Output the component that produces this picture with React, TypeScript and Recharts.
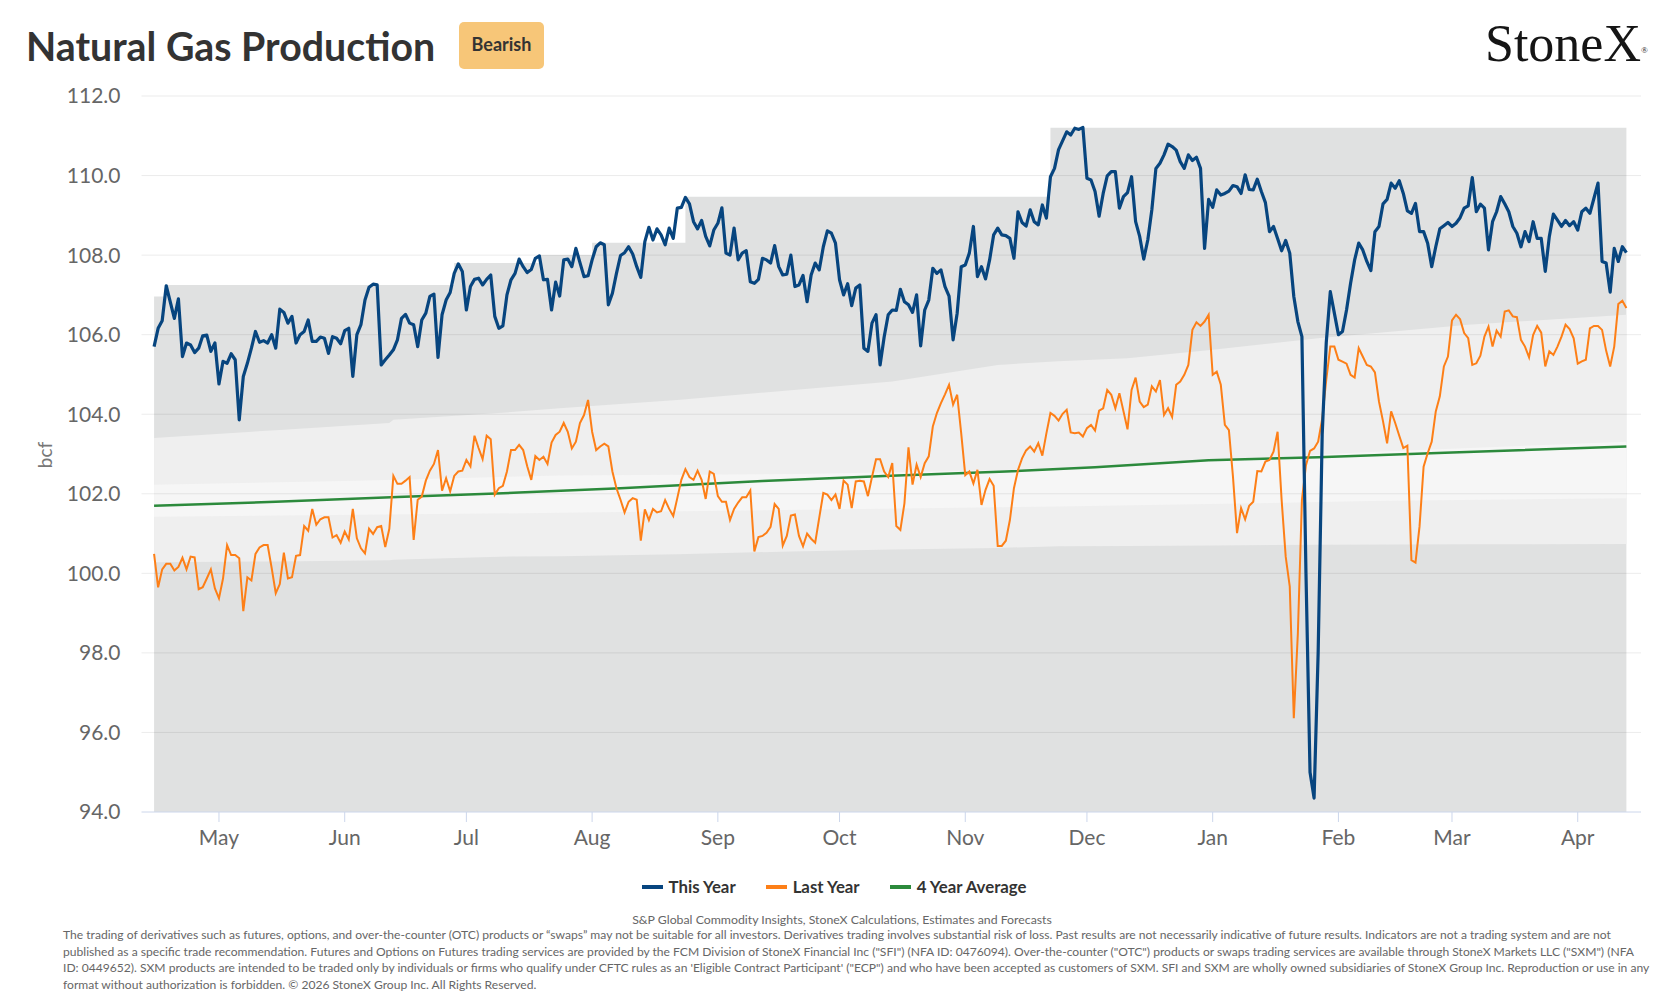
import React from "react";
import { ComposedChart, Area, Line, XAxis, YAxis, ReferenceLine } from "recharts";

// x values are days counted from Apr 15 of the previous year
const monthTickDays = [16, 47, 77, 108, 139, 169, 200, 230, 261, 292, 320, 351];
const monthLabels = ["May", "Jun", "Jul", "Aug", "Sep", "Oct", "Nov", "Dec", "Jan", "Feb", "Mar", "Apr"];
const yTicks = [94, 96, 98, 100, 102, 104, 106, 108, 110, 112];

// [day, bcf]
const thisYear: [number, number][] = [
  [0, 105.7], [1, 106.16], [2, 106.35], [3, 107.23], [5, 106.41], [6, 106.9], [7, 105.45], [8, 105.79],
  [9, 105.74], [10, 105.55], [11, 105.66], [12, 105.97], [13, 105.99], [14, 105.58], [15, 105.79],
  [16, 104.76], [17, 105.33], [18, 105.28], [19, 105.52], [20, 105.37], [21, 103.86], [22, 104.95],
  [23, 105.28], [24, 105.66], [25, 106.08], [26, 105.81], [27, 105.85], [28, 105.79], [29, 106.0],
  [30, 105.66], [31, 106.64], [32, 106.56], [33, 106.29], [34, 106.46], [35, 105.79], [36, 106.0],
  [37, 106.08], [38, 106.37], [39, 105.83], [40, 105.83], [41, 105.94], [42, 105.91], [43, 105.53],
  [44, 105.95], [45, 105.91], [46, 105.77], [47, 106.1], [48, 106.16], [49, 104.95], [50, 106.0],
  [51, 106.25], [52, 106.87], [53, 107.19], [54, 107.27], [55, 107.25], [56, 105.24], [57, 105.37],
  [58, 105.49], [59, 105.62], [60, 105.87], [61, 106.41], [62, 106.51], [63, 106.29], [64, 106.25],
  [65, 105.7], [66, 106.37], [67, 106.54], [68, 106.96], [69, 107.02], [70, 105.43], [71, 106.5],
  [72, 106.87], [73, 107.06], [74, 107.54], [75, 107.78], [76, 107.59], [77, 106.62], [78, 107.21],
  [79, 107.39], [80, 107.42], [81, 107.25], [82, 107.39], [83, 107.5], [84, 106.46], [85, 106.16],
  [86, 106.22], [87, 107.0], [88, 107.38], [89, 107.54], [90, 107.9], [91, 107.71], [92, 107.56],
  [93, 107.64], [94, 107.92], [95, 107.98], [96, 107.38], [97, 107.39], [98, 106.62], [99, 107.32],
  [100, 106.97], [101, 107.88], [102, 107.9], [103, 107.71], [104, 108.17], [105, 107.81], [106, 107.46],
  [107, 107.48], [108, 107.88], [109, 108.21], [110, 108.31], [111, 108.26], [112, 106.75], [113, 107.04],
  [114, 107.54], [115, 107.99], [116, 108.06], [117, 108.21], [118, 108.03], [119, 107.71], [120, 107.44],
  [121, 108.34], [122, 108.7], [123, 108.38], [124, 108.66], [125, 108.51], [126, 108.26], [127, 108.68],
  [128, 108.42], [129, 109.18], [130, 109.2], [131, 109.45], [132, 109.29], [133, 108.84], [134, 108.66],
  [135, 108.87], [136, 108.47], [137, 108.23], [138, 108.63], [139, 108.8], [140, 109.19], [141, 108.05],
  [142, 108.0], [143, 108.68], [144, 107.88], [145, 108.05], [146, 108.11], [147, 107.33], [148, 107.29],
  [149, 107.39], [150, 107.92], [151, 107.88], [152, 107.8], [153, 108.24], [154, 107.71], [155, 107.5],
  [156, 107.52], [157, 108.0], [158, 107.21], [159, 107.25], [160, 107.49], [161, 106.83], [162, 107.5],
  [163, 107.8], [164, 107.63], [165, 108.21], [166, 108.61], [167, 108.55], [168, 108.3], [169, 107.38],
  [170, 107.0], [171, 107.28], [172, 106.73], [173, 107.17], [174, 107.25], [175, 105.66], [176, 105.58],
  [177, 106.29], [178, 106.5], [179, 105.24], [180, 105.94], [181, 106.5], [182, 106.62], [183, 106.61],
  [184, 107.14], [185, 106.83], [186, 106.75], [187, 106.56], [188, 107.0], [189, 105.72], [190, 106.62],
  [191, 106.87], [192, 107.67], [193, 107.54], [194, 107.63], [195, 107.21], [196, 106.97], [197, 105.87],
  [198, 106.54], [199, 107.71], [200, 107.75], [201, 108.05], [202, 108.72], [203, 107.46], [204, 107.71],
  [205, 107.4], [206, 107.88], [207, 108.51], [208, 108.68], [209, 108.51], [210, 108.49], [211, 108.42],
  [212, 107.92], [213, 109.09], [214, 108.82], [215, 108.73], [216, 109.14], [217, 108.84], [218, 108.76],
  [219, 109.26], [220, 108.93], [221, 109.97], [222, 110.18], [223, 110.65], [225, 111.1], [226, 111.02],
  [227, 111.19], [228, 111.16], [229, 111.21], [230, 109.93], [231, 109.89], [232, 109.6], [233, 108.98],
  [234, 109.55], [235, 109.99], [236, 110.1], [237, 110.1], [238, 109.18], [239, 109.47], [240, 109.57],
  [241, 109.97], [242, 108.84], [243, 108.47], [244, 107.9], [245, 108.38], [246, 109.14], [247, 110.18],
  [248, 110.31], [249, 110.52], [250, 110.79], [251, 110.73], [252, 110.64], [253, 110.35], [254, 110.18],
  [255, 110.52], [256, 110.38], [257, 110.46], [258, 110.18], [259, 108.17], [260, 109.4], [261, 109.2],
  [262, 109.64], [263, 109.51], [264, 109.55], [265, 109.61], [266, 109.75], [267, 109.72], [268, 109.55],
  [269, 110.02], [270, 109.65], [271, 109.64], [272, 109.91], [273, 109.6], [274, 109.32], [275, 108.59],
  [276, 108.72], [277, 108.42], [278, 108.11], [279, 108.37], [280, 108.05], [281, 106.96], [282, 106.33],
  [283, 105.95], [284, 100.0], [285, 95.0], [286, 94.35], [287, 98.0], [288, 103.5], [289, 105.8],
  [290, 107.08], [292, 106.0], [293, 106.08], [294, 106.62], [295, 107.29], [296, 107.88], [297, 108.3],
  [298, 108.13], [299, 107.84], [300, 107.61], [301, 108.59], [302, 108.72], [303, 109.29], [304, 109.4],
  [305, 109.81], [306, 109.68], [307, 109.87], [308, 109.55], [309, 109.11], [310, 109.05], [311, 109.3],
  [312, 108.59], [313, 108.59], [314, 108.3], [315, 107.71], [316, 108.21], [317, 108.66], [318, 108.74],
  [319, 108.82], [320, 108.72], [321, 108.8], [322, 108.94], [323, 109.18], [324, 109.24], [325, 109.95],
  [326, 109.09], [327, 109.28], [328, 109.18], [329, 108.13], [330, 108.84], [331, 109.09], [332, 109.47],
  [333, 109.29], [334, 109.09], [335, 108.72], [336, 108.55], [337, 108.21], [338, 108.59], [339, 108.34],
  [340, 108.84], [341, 108.42], [342, 108.42], [343, 107.59], [344, 108.47], [345, 109.03], [346, 108.88],
  [347, 108.72], [348, 108.87], [349, 108.74], [350, 108.84], [351, 108.63], [352, 109.09], [353, 109.18],
  [354, 109.05], [355, 109.43], [356, 109.81], [357, 107.84], [358, 107.8], [359, 107.07], [360, 108.17],
  [361, 107.84], [362, 108.21], [363, 108.06],
];

const lastYear: [number, number][] = [
  [0, 100.49], [1, 99.65], [2, 100.1], [3, 100.24], [4, 100.24], [5, 100.07], [6, 100.16], [7, 100.39],
  [8, 100.1], [9, 100.42], [10, 100.4], [11, 99.6], [12, 99.65], [13, 99.87], [14, 100.1], [15, 99.62],
  [16, 99.37], [17, 99.87], [18, 100.71], [19, 100.46], [20, 100.46], [21, 100.38], [22, 99.05],
  [23, 99.9], [24, 99.82], [25, 100.49], [26, 100.65], [27, 100.71], [28, 100.71], [29, 100.13],
  [30, 99.5], [31, 99.73], [32, 100.52], [33, 99.87], [34, 99.9], [35, 100.44], [36, 100.46],
  [37, 101.19], [38, 101.07], [39, 101.62], [40, 101.22], [41, 101.36], [42, 101.41], [43, 101.41],
  [44, 100.9], [45, 100.96], [46, 100.77], [47, 101.05], [48, 100.85], [49, 101.62], [50, 100.88],
  [51, 100.63], [52, 100.5], [53, 101.12], [54, 100.99], [55, 101.16], [56, 101.19], [57, 100.66],
  [58, 101.12], [59, 102.45], [60, 102.25], [61, 102.25], [62, 102.33], [63, 102.42], [64, 100.84],
  [65, 101.85], [66, 101.93], [67, 102.33], [68, 102.58], [69, 102.75], [70, 103.1], [71, 102.08],
  [72, 102.39], [73, 102.06], [74, 102.45], [75, 102.56], [76, 102.58], [77, 102.85], [78, 102.69],
  [79, 103.46], [80, 103.15], [81, 102.87], [82, 103.46], [83, 103.37], [84, 101.98], [85, 102.14],
  [86, 102.2], [87, 102.56], [88, 103.1], [89, 103.1], [90, 103.23], [91, 103.1], [92, 102.69],
  [93, 102.35], [94, 102.95], [95, 102.85], [96, 102.93], [97, 102.75], [98, 103.29], [99, 103.48],
  [100, 103.56], [101, 103.78], [102, 103.56], [103, 103.14], [104, 103.31], [105, 103.78], [106, 103.98],
  [107, 104.36], [108, 103.56], [109, 103.1], [110, 103.19], [111, 103.26], [112, 103.19], [113, 102.56],
  [114, 102.14], [115, 101.85], [116, 101.53], [117, 101.8], [118, 101.89], [119, 101.85], [120, 100.82],
  [121, 101.61], [122, 101.34], [123, 101.62], [124, 101.53], [125, 101.56], [126, 101.84], [127, 101.62],
  [128, 101.44], [129, 101.89], [130, 102.35], [131, 102.62], [132, 102.42], [133, 102.35], [134, 102.58],
  [135, 102.35], [136, 101.87], [137, 102.56], [138, 102.5], [139, 101.94], [140, 101.8], [141, 101.8],
  [142, 101.34], [143, 101.62], [144, 101.78], [145, 101.91], [146, 101.91], [147, 102.08], [148, 100.55],
  [149, 100.91], [150, 100.94], [151, 101.02], [152, 101.17], [153, 101.74], [154, 101.62], [155, 100.7],
  [156, 100.94], [157, 101.45], [158, 101.48], [159, 100.94], [160, 100.68], [161, 101.0], [162, 100.87],
  [163, 100.77], [164, 101.4], [165, 102.02], [166, 101.98], [167, 101.84], [168, 101.98], [169, 101.62],
  [170, 102.33], [171, 102.23], [172, 101.64], [173, 102.31], [174, 102.33], [175, 102.31], [176, 101.94],
  [177, 102.42], [178, 102.87], [179, 102.87], [180, 102.56], [181, 102.42], [182, 102.77], [183, 101.19],
  [184, 101.09], [185, 101.76], [186, 103.17], [187, 102.23], [188, 102.73], [189, 102.42], [190, 102.77],
  [191, 102.94], [192, 103.69], [193, 104.03], [194, 104.28], [195, 104.5], [196, 104.74], [197, 104.24],
  [198, 104.49], [199, 103.52], [200, 102.47], [201, 102.56], [202, 102.26], [203, 102.6], [204, 101.72],
  [205, 102.1], [206, 102.37], [207, 102.2], [208, 100.69], [209, 100.69], [210, 100.82], [211, 101.34],
  [212, 102.14], [213, 102.6], [214, 102.89], [215, 103.09], [216, 103.19], [217, 103.06], [218, 103.27],
  [219, 102.96], [220, 103.52], [221, 104.03], [222, 103.96], [223, 103.84], [224, 104.01], [225, 104.11],
  [226, 103.54], [227, 103.52], [228, 103.54], [229, 103.44], [230, 103.65], [231, 103.73], [232, 103.59],
  [233, 104.09], [234, 104.15], [235, 104.61], [236, 104.49], [237, 104.15], [238, 104.53], [240, 103.62],
  [241, 104.61], [242, 104.92], [243, 104.32], [244, 104.18], [245, 104.24], [246, 104.7], [247, 104.57],
  [248, 104.86], [249, 103.98], [250, 104.15], [251, 103.93], [252, 104.74], [253, 104.82], [254, 104.99],
  [255, 105.24], [256, 106.12], [257, 106.31], [258, 106.22], [259, 106.33], [260, 106.5], [261, 104.99],
  [262, 105.07], [263, 104.74], [264, 103.73], [265, 103.6], [266, 102.43], [267, 101.01], [268, 101.64],
  [269, 101.36], [270, 101.7], [271, 101.8], [272, 102.57], [273, 102.56], [274, 102.81], [275, 102.85],
  [276, 103.06], [277, 103.56], [278, 101.84], [279, 100.42], [280, 99.67], [281, 96.36], [282, 98.49],
  [283, 101.84], [284, 102.72], [285, 103.08], [286, 103.14], [287, 103.31], [288, 103.89], [289, 104.86],
  [290, 105.7], [291, 105.7], [292, 105.37], [293, 105.32], [294, 105.27], [295, 104.99], [296, 104.92],
  [297, 105.66], [298, 105.45], [299, 105.24], [300, 105.2], [301, 105.05], [302, 104.32], [303, 103.82],
  [304, 103.27], [305, 104.07], [306, 103.78], [307, 103.46], [308, 103.15], [309, 103.21], [310, 100.33],
  [311, 100.27], [312, 101.18], [313, 102.68], [314, 103.02], [315, 103.31], [316, 104.07], [317, 104.45],
  [318, 105.2], [319, 105.45], [320, 106.36], [321, 106.5], [322, 106.39], [323, 106.04], [324, 105.91],
  [325, 105.24], [326, 105.28], [327, 105.47], [328, 105.95], [329, 106.2], [330, 105.7], [331, 106.1],
  [332, 105.95], [333, 106.58], [334, 106.61], [335, 106.46], [336, 106.44], [337, 105.87], [338, 105.7],
  [339, 105.43], [340, 105.99], [341, 106.22], [342, 106.05], [343, 105.2], [344, 105.58], [345, 105.49],
  [346, 105.7], [347, 105.95], [348, 106.25], [349, 106.14], [350, 105.91], [351, 105.27], [352, 105.33],
  [353, 105.37], [354, 106.16], [355, 106.22], [356, 106.22], [357, 106.12], [358, 105.6], [359, 105.2],
  [360, 105.7], [361, 106.77], [362, 106.85], [363, 106.67],
];

const fourYearAvg: [number, number][] = [
  [0, 101.7], [30, 101.8], [60, 101.92], [90, 102.03], [115, 102.14], [150, 102.32], [180, 102.45],
  [210, 102.56], [232, 102.67], [260, 102.84], [287, 102.92], [320, 103.04], [363, 103.19],
];

// historical range (top edge; bottom lies below the axis)
const rangeTop: [number, number][] = [
  [0, 106.96], [3, 107.25], [74, 107.8], [95, 108.0], [108, 108.31], [131, 109.47], [221, 111.2], [363, 111.2],
];

// [day, low, high]
const outerBand: [number, number, number][] = [
  [0, 100.28, 103.4], [30, 100.3, 103.6], [58, 100.33, 103.78], [59, 100.34, 103.86], [85, 100.42, 104.03],
  [100, 100.43, 104.15], [129, 100.48, 104.36], [157, 100.55, 104.6], [182, 100.6, 104.82], [195, 100.62, 105.03],
  [208, 100.64, 105.24], [223, 100.68, 105.33], [240, 100.69, 105.41], [261, 100.7, 105.62], [287, 100.72, 105.91],
  [324, 100.73, 106.25], [363, 100.74, 106.5],
];

const innerBand: [number, number, number][] = [
  [0, 101.42, 102.23], [50, 101.47, 102.33], [100, 101.52, 102.46], [160, 101.6, 102.5], [223, 101.68, 102.62],
  [260, 101.74, 102.85], [300, 101.82, 103.05], [363, 101.89, 103.31],
];

const legendItems = [
  { name: "This Year", color: "#07457f" },
  { name: "Last Year", color: "#fd7f17" },
  { name: "4 Year Average", color: "#2c8a3c" },
];

const disclaimer = [
  "The trading of derivatives such as futures, options, and over-the-counter (OTC) products or \u201cswaps\u201d may not be suitable for all investors. Derivatives trading involves substantial risk of loss. Past results are not necessarily indicative of future results. Indicators are not a trading system and are not",
  "published as a specific trade recommendation. Futures and Options on Futures trading services are provided by the FCM Division of StoneX Financial Inc (\"SFI\") (NFA ID: 0476094). Over-the-counter (\"OTC\") products or swaps trading services are available through StoneX Markets LLC (\"SXM\") (NFA",
  "ID: 0449652). SXM products are intended to be traded only by individuals or firms who qualify under CFTC rules as an 'Eligible Contract Participant' (\"ECP\") and who have been accepted as customers of SXM. SFI and SXM are wholly owned subsidiaries of StoneX Group Inc. Reproduction or use in any",
  "format without authorization is forbidden. \u00a9 2026 StoneX Group Inc. All Rights Reserved.",
];

const FONT = "Lato, 'Open Sans', sans-serif";

const pts = (arr: [number, number][]) => arr.map(([day, value]) => ({ day, value }));

export default function App() {
  const rangeData = rangeTop.map(([day, hi]) => ({ day, range: [94, hi] }));
  const outerData = outerBand.map(([day, lo, hi]) => ({ day, range: [lo, hi] }));
  const innerData = innerBand.map(([day, lo, hi]) => ({ day, range: [lo, hi] }));

  return (
    <div
      style={{
        position: "absolute",
        left: 0,
        top: 0,
        width: 1668,
        height: 1001,
        background: "#fff",
        overflow: "hidden",
        fontFamily: FONT,
      }}
    >
      <div style={{ position: "absolute", left: 26, top: 22, fontSize: 39.3, fontWeight: 700, color: "#333", lineHeight: "48px" }}>
        Natural Gas Production
      </div>
      <div
        style={{
          position: "absolute",
          left: 459,
          top: 22,
          width: 85,
          height: 47,
          borderRadius: 5,
          background: "#f7c678",
          color: "#333",
          fontSize: 18,
          fontWeight: 700,
          display: "flex",
          alignItems: "center",
          justifyContent: "center",
          paddingBottom: 4,
          boxSizing: "border-box",
        }}
      >
        Bearish
      </div>
      <div
        style={{
          position: "absolute",
          left: 1485,
          top: 14,
          fontFamily: "'Liberation Serif', 'DejaVu Serif', serif",
          fontSize: 52,
          color: "#151515",
          lineHeight: "60px",
        }}
      >
        StoneX<span style={{ fontSize: 9, verticalAlign: "top", position: "relative", top: 6 }}>®</span>
      </div>

      <div
        style={{
          position: "absolute",
          left: 44,
          top: 455,
          transform: "translate(-50%, -50%) rotate(-90deg)",
          fontSize: 19,
          color: "#777",
        }}
      >
        bcf
      </div>

      <div style={{ position: "absolute", left: 0, top: 0 }}>
        <ComposedChart width={1668} height={900} margin={{ top: 96, right: 27, bottom: 38, left: 0 }}>
          <XAxis
            type="number"
            dataKey="day"
            domain={[-3.1, 366.6]}
            ticks={monthTickDays}
            interval={0}
            allowDataOverflow
            tickFormatter={(d: number) => monthLabels[monthTickDays.indexOf(d)]}
            stroke="#ccd6eb"
            tickSize={10}
            tickMargin={8}
            height={50}
            tick={{ fill: "#666", fontSize: 21, fontFamily: FONT }}
          />
          <YAxis
            type="number"
            domain={[94, 112]}
            ticks={yTicks}
            interval={0}
            allowDataOverflow
            axisLine={false}
            tickLine={false}
            tickSize={0}
            tickMargin={21}
            width={141.5}
            tickFormatter={(v: number) => v.toFixed(1)}
            tick={{ fill: "#666", fontSize: 21, fontFamily: FONT }}
          />
          <Area
            data={rangeData}
            dataKey="range"
            type="stepAfter"
            fill="#e0e1e1"
            fillOpacity={1}
            stroke="none"
            isAnimationActive={false}
            legendType="none"
            activeDot={false}
          />
          <Area
            data={outerData}
            dataKey="range"
            type="linear"
            fill="#efefef"
            fillOpacity={1}
            stroke="none"
            isAnimationActive={false}
            legendType="none"
            activeDot={false}
          />
          <Area
            data={innerData}
            dataKey="range"
            type="linear"
            fill="#f6f6f6"
            fillOpacity={1}
            stroke="none"
            isAnimationActive={false}
            legendType="none"
            activeDot={false}
          />
          {yTicks.slice(1).map((v) => (
            <ReferenceLine key={v} y={v} stroke="#000" strokeOpacity={0.08} strokeWidth={1} />
          ))}
          <Line
            data={pts(fourYearAvg)}
            dataKey="value"
            name="4 Year Average"
            type="linear"
            stroke={legendItems[2].color}
            strokeWidth={2.5}
            dot={false}
            activeDot={false}
            isAnimationActive={false}
          />
          <Line
            data={pts(lastYear)}
            dataKey="value"
            name="Last Year"
            type="linear"
            stroke={legendItems[1].color}
            strokeWidth={2}
            dot={false}
            activeDot={false}
            isAnimationActive={false}
          />
          <Line
            data={pts(thisYear)}
            dataKey="value"
            name="This Year"
            type="linear"
            stroke={legendItems[0].color}
            strokeWidth={3.2}
            strokeLinejoin="round"
            dot={false}
            activeDot={false}
            isAnimationActive={false}
          />
        </ComposedChart>
      </div>

      <div
        style={{
          position: "absolute",
          left: 0,
          width: 1668,
          top: 876,
          display: "flex",
          justifyContent: "center",
          gap: 30,
          fontSize: 16.8,
          fontWeight: 700,
          color: "#333",
          lineHeight: "22px",
        }}
      >
        {legendItems.map((it) => (
          <div key={it.name} style={{ display: "flex", alignItems: "center" }}>
            <span style={{ display: "inline-block", width: 21, height: 4, background: it.color, marginRight: 6 }} />
            {it.name}
          </div>
        ))}
      </div>

      <div
        style={{
          position: "absolute",
          left: 0,
          width: 1668,
          top: 912,
          paddingLeft: 16,
          boxSizing: "border-box",
          textAlign: "center",
          fontSize: 12.3,
          color: "#666",
          lineHeight: "16px",
        }}
      >
        S&amp;P Global Commodity Insights, StoneX Calculations, Estimates and Forecasts
      </div>
      <div style={{ position: "absolute", left: 63, top: 927, right: 0, fontSize: 12.1, color: "#666", lineHeight: "16.7px" }}>
        {disclaimer.map((line, i) => (
          <div key={i} style={{ whiteSpace: "nowrap" }}>
            {line}
          </div>
        ))}
      </div>
    </div>
  );
}
